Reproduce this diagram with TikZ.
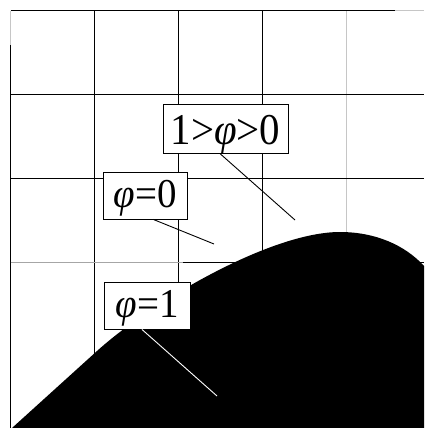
\documentclass[tikz,border=0pt]{standalone}
\usepackage{fontspec}
\setmainfont{Liberation Serif}
\usepackage{tikz}

\begin{document}
\begin{tikzpicture}[x=1pt,y=-1pt,line width=0.9pt,
  lbl/.style={draw,fill=white,line width=0.8pt,inner sep=0pt,anchor=base,
    text height=35pt,text depth=12pt,font=\fontsize{41}{41}\selectfont}]
  \useasboundingbox (0,0) rectangle (424,428);
  % grid
  \foreach \x in {10.7,94.7,178.7,262.7}{\draw (\x,45)--(\x,428);}
  \draw[gray!45] (10.7,10.7)--(10.7,45);
  \foreach \x in {94.7,178.7,262.7}{\draw (\x,10.7)--(\x,45);}
  \draw[gray!45] (346.7,10.7)--(346.7,428);
  \draw (10.7,10.7)--(395,10.7); \draw[gray!45] (395,10.7)--(424,10.7);
  \foreach \y in {94.7,178.7}{\draw (10.7,\y)--(424,\y);}
  \draw[gray!70] (10.7,262.7)--(183,262.7); \draw (183,262.7)--(424,262.7);
  % phase phi=1
  \fill[black] (12,428) -- (97,351) .. controls (150,303) and (270,232) .. (340,232)
    .. controls (375,232) and (405,245) .. (424,266) -- (424,428) -- cycle;
  \node[lbl,minimum width=125pt,text height=40pt,text depth=9pt,font=\fontsize{44}{44}\selectfont] (top) at (225.5,144) {\scalebox{0.93}[1]{1>\textit{φ}>0}};
  \node[lbl,minimum width=84pt] (mid) at (145,207) {\scalebox{0.95}[1]{\textit{φ}=0}};
  \node[lbl,minimum width=86pt] (low) at (147,317) {\scalebox{0.95}[1]{\textit{φ}=1}};
  \coordinate (topend) at (295,220);
  \coordinate (midend) at (214,244);
  \coordinate (lowend) at (217,396);
  \draw (top.257)--(topend);
  \draw (mid.289)--(midend);
  \draw[white] (low.258)--(lowend);
\end{tikzpicture}
\end{document}
